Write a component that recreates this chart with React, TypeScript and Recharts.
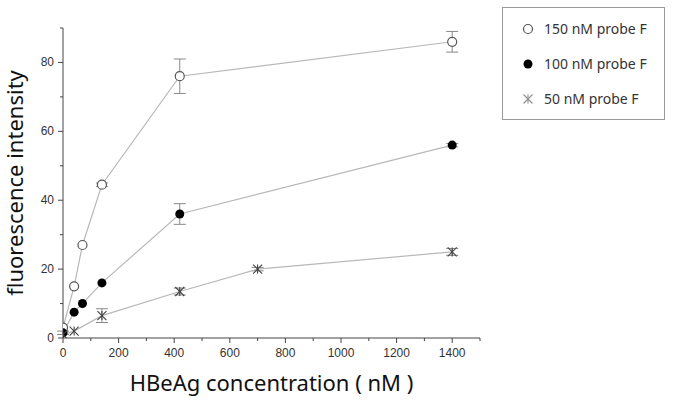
import { ComposedChart, Line, XAxis, YAxis, ErrorBar, Label } from 'recharts';

// HBeAg concentration (nM) for each probe level
const conc150 = [0, 40, 70, 140, 420, 1400];
const conc100 = [0, 40, 70, 140, 420, 1400];
const conc50 = [0, 40, 140, 420, 700, 1400];

// fluorescence intensity
const fl150 = [3, 15, 27, 44.5, 76, 86];
const fl100 = [1.5, 7.5, 10, 16, 36, 56];
const fl50 = [1, 2, 6.5, 13.5, 20, 25];

// error bar half-heights
const err150 = [0, 0, 0, 0.5, 5, 3];
const err100 = [0.5, 0, 0, 0, 3, 0.5];
const err50 = [0, 0, 2, 1, 0.5, 1];

const xTicks = [0, 100, 200, 300, 400, 500, 600, 700, 800, 900, 1000, 1100, 1200, 1300, 1400, 1500];
const yTicks = [0, 10, 20, 30, 40, 50, 60, 70, 80, 90];

const seriesNames = ['150 nM probe F', '100 nM probe F', '50 nM probe F'];

const toRows = (xs: number[], ys: number[], es: number[]) =>
  xs.map((x, i) => ({ x, y: ys[i], err: es[i] }));

const data150 = toRows(conc150, fl150, err150);
const data100 = toRows(conc100, fl100, err100);
const data50 = toRows(conc50, fl50, err50);

const AXIS = '#444';
const LINE = '#b8b8b8';
const TICK_FONT = '"Liberation Sans", Arial, sans-serif';
const TITLE_FONT = '"Noto Sans", "Open Sans", sans-serif';

const XTick = ({ x, y, payload }: any) => {
  const major = payload.value % 200 === 0 && payload.value < 1500;
  return (
    <g>
      <line x1={x} y1={y} x2={x} y2={y + (major ? 5 : 3)} stroke={AXIS} />
      {major && (
        <text x={x} y={y + 19} textAnchor="middle" fontSize={12} fill="#333" fontFamily={TICK_FONT}>
          {payload.value}
        </text>
      )}
    </g>
  );
};

const YTick = ({ x, y, payload }: any) => {
  const major = payload.value % 20 === 0;
  return (
    <g>
      <line x1={x} y1={y} x2={x - (major ? 5 : 3)} y2={y} stroke={AXIS} />
      {major && (
        <text x={x - 9} y={y + 4} textAnchor="end" fontSize={12} fill="#333" fontFamily={TICK_FONT}>
          {payload.value}
        </text>
      )}
    </g>
  );
};

const OpenDot = ({ cx, cy }: any) => (
  <circle cx={cx} cy={cy} r={4.5} fill="#fff" stroke="#555" strokeWidth={1.2} />
);

const FilledDot = ({ cx, cy }: any) => <circle cx={cx} cy={cy} r={4.5} fill="#000" />;

const StarDot = ({ cx, cy }: any) => {
  const r = 4.5;
  return (
    <g stroke="#444" strokeWidth={1.1}>
      <line x1={cx - r} y1={cy - r} x2={cx + r} y2={cy + r} />
      <line x1={cx - r} y1={cy + r} x2={cx + r} y2={cy - r} />
      <line x1={cx} y1={cy - r} x2={cx} y2={cy + r} />
    </g>
  );
};

const markers = [OpenDot, FilledDot, StarDot];

const LegendBox = () => (
  <div
    style={{
      position: 'absolute',
      left: 502,
      top: 7,
      border: '1px solid #999',
      width: 163,
      height: 113,
      boxSizing: 'border-box',
      background: '#fff',
      fontFamily: TITLE_FONT,
      fontSize: 14,
      color: '#333',
      paddingTop: 3,
    }}
  >
    {seriesNames.map((name, i) => {
      const M = markers[i];
      return (
        <div key={name} style={{ display: 'flex', alignItems: 'center', height: 35, paddingLeft: 17 }}>
          <svg width={18} height={14} style={{ marginRight: 6 }}>
            {i === 2 ? <g opacity={0.6}><M cx={8} cy={7} /></g> : <M cx={8} cy={7} />}
          </svg>
          <span>{name}</span>
        </div>
      );
    })}
  </div>
);

const App = () => {
  return (
    <div style={{ position: 'absolute', left: 0, top: 0, width: 675, height: 403, background: '#fff' }}>
      <ComposedChart width={675} height={403} margin={{ top: 28, right: 195, bottom: 20, left: 23 }}>
        <XAxis
          dataKey="x"
          type="number"
          domain={[0, 1500]}
          ticks={xTicks}
          interval={0}
          tickSize={0}
          tickMargin={0}
          height={45}
          stroke={AXIS}
          tick={<XTick />}
          allowDataOverflow
        >
          <Label
            content={({ viewBox }: any) => (
              <text
                x={viewBox.x + viewBox.width / 2}
                y={391}
                textAnchor="middle"
                fontSize={22}
                fill="#111"
                fontFamily={TITLE_FONT}
              >
                HBeAg concentration ( nM )
              </text>
            )}
          />
        </XAxis>
        <YAxis
          type="number"
          domain={[0, 90]}
          ticks={yTicks}
          interval={0}
          tickSize={0}
          tickMargin={0}
          width={40}
          stroke={AXIS}
          tick={<YTick />}
          allowDataOverflow
        >
          <Label
            content={({ viewBox }: any) => {
              const cy = viewBox.y + viewBox.height / 2;
              return (
                <text
                  x={23}
                  y={cy}
                  transform={`rotate(-90 23 ${cy})`}
                  textAnchor="middle"
                  fontSize={22}
                  fill="#111"
                  fontFamily={TITLE_FONT}
                >
                  fluorescence intensity
                </text>
              );
            }}
          />
        </YAxis>
        <Line
          data={data150}
          dataKey="y"
          name={seriesNames[0]}
          type="linear"
          stroke={LINE}
          strokeWidth={1.2}
          dot={(p: any) => <OpenDot key={p.index} {...p} />}
          isAnimationActive={false}
        >
          <ErrorBar dataKey="err" direction="y" width={6} stroke="#888" strokeWidth={1} />
        </Line>
        <Line
          data={data100}
          dataKey="y"
          name={seriesNames[1]}
          type="linear"
          stroke={LINE}
          strokeWidth={1.2}
          dot={(p: any) => <FilledDot key={p.index} {...p} />}
          isAnimationActive={false}
        >
          <ErrorBar dataKey="err" direction="y" width={6} stroke="#888" strokeWidth={1} />
        </Line>
        <Line
          data={data50}
          dataKey="y"
          name={seriesNames[2]}
          type="linear"
          stroke={LINE}
          strokeWidth={1.2}
          dot={(p: any) => <StarDot key={p.index} {...p} />}
          isAnimationActive={false}
        >
          <ErrorBar dataKey="err" direction="y" width={6} stroke="#888" strokeWidth={1} />
        </Line>
      </ComposedChart>
      <LegendBox />
    </div>
  );
};

export default App;
